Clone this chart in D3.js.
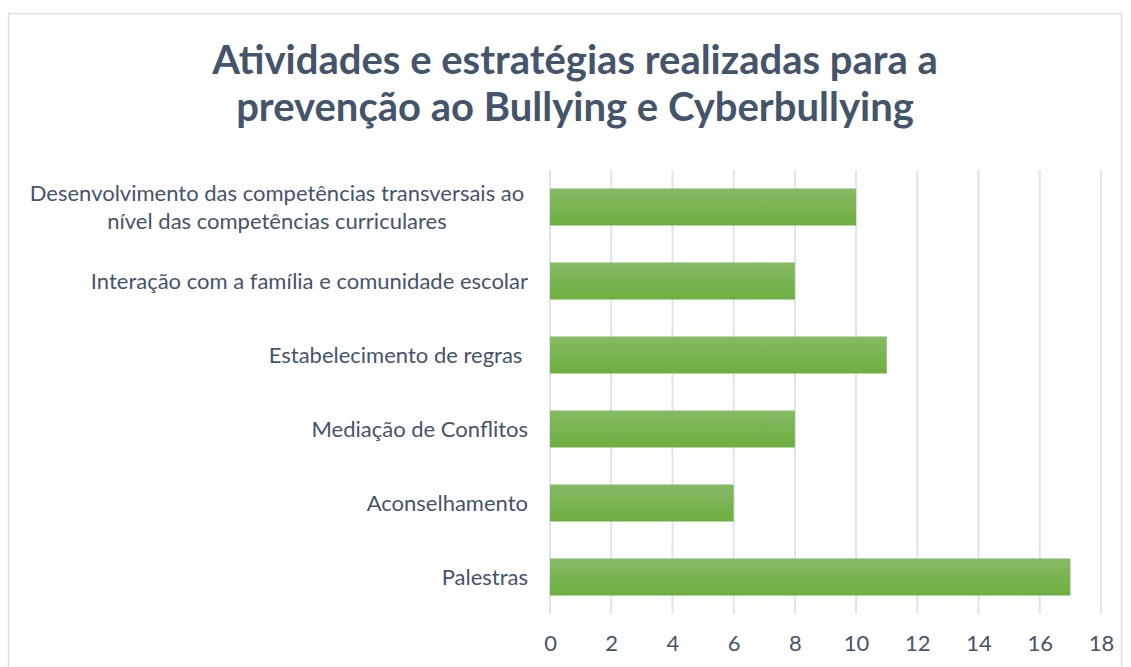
<!DOCTYPE html>
<html>
<head>
<meta charset="utf-8">
<script src="https://cdn.jsdelivr.net/npm/d3@7"></script>
<style>
  body { margin: 0; background: #fff; }
  svg text { font-family: Lato, "Open Sans", sans-serif; }
</style>
</head>
<body>
<svg id="chart" width="1131" height="667"></svg>
<script>
const categories = [
  "Desenvolvimento das competências transversais ao|nível das competências curriculares",
  "Interação com a família e comunidade escolar",
  "Estabelecimento de regras ",
  "Mediação de Conflitos",
  "Aconselhamento",
  "Palestras"
];
const values = [10, 8, 11, 8, 6, 17];
const tickValues = [0, 2, 4, 6, 8, 10, 12, 14, 16, 18];
const titleLines = ["Atividades e estratégias realizadas para a", "prevenção ao Bullying e Cyberbullying"];

const textColor = "#44546a";
const gridColor = "#dfe3ea";

const svg = d3.select("#chart");

// frame
svg.append("rect")
  .attr("x", 8.5).attr("y", 13.5)
  .attr("width", 1113).attr("height", 700)
  .style("fill", "none")
  .style("stroke", "#dcdfe3")
  .style("stroke-width", 1.5);

const defs = svg.append("defs");
const grad = defs.append("linearGradient")
  .attr("id", "barGrad")
  .attr("x1", 0).attr("y1", 0).attr("x2", 0).attr("y2", 1);
grad.append("stop").attr("offset", "0%").attr("stop-color", "#86ba65");
grad.append("stop").attr("offset", "100%").attr("stop-color", "#6daf3f");

// title
svg.append("g").selectAll("text")
  .data(titleLines)
  .join("text")
  .attr("x", 575)
  .attr("y", (d, i) => 74 + i * 47)
  .attr("text-anchor", "middle")
  .text(d => d)
  .style("fill", textColor)
  .style("font-size", "40px")
  .style("font-weight", "bold");

const plotLeft = 550, plotRight = 1101, plotTop = 170, plotBottom = 614;

const x = d3.scaleLinear().domain([0, 18]).range([plotLeft, plotRight]);
const y = d3.scaleBand().domain(categories).range([plotTop, plotBottom]).paddingInner(0.5).paddingOuter(0.25);

// gridlines
svg.append("g").selectAll("line")
  .data(tickValues)
  .join("line")
  .attr("x1", d => x(d)).attr("x2", d => x(d))
  .attr("y1", plotTop).attr("y2", plotBottom)
  .style("stroke", gridColor)
  .style("stroke-width", 2);

// x axis labels
const xAxis = svg.append("g")
  .attr("transform", `translate(0,${plotBottom})`)
  .call(d3.axisBottom(x).tickValues(tickValues).tickSize(0).tickPadding(21));
xAxis.select(".domain").remove();
xAxis.selectAll("text")
  .style("fill", textColor)
  .style("font-size", "22px")
  .style("font-family", "Lato, sans-serif");

// bars
svg.append("g").selectAll("rect")
  .data(values)
  .join("rect")
  .attr("x", x(0))
  .attr("y", (d, i) => y(categories[i]))
  .attr("width", d => x(d) - x(0))
  .attr("height", y.bandwidth())
  .style("fill", "url(#barGrad)");

// category labels
const labels = svg.append("g");
categories.forEach(c => {
  const lines = c.split("|");
  const cy = y(c) + y.bandwidth() / 2;
  const t = labels.append("text")
    .style("fill", textColor)
    .style("font-size", "22px");
  if (lines.length === 1) {
    t.attr("x", 528).attr("y", cy).attr("dy", "0.35em")
      .attr("text-anchor", "end")
      .style("white-space", "pre")
      .text(c);
  } else {
    t.attr("text-anchor", "middle");
    lines.forEach((ln, i) => {
      t.append("tspan")
        .attr("x", 277)
        .attr("y", cy + (i - (lines.length - 1) / 2) * 28)
        .attr("dy", "0.35em")
        .text(ln);
    });
  }
});
</script>
</body>
</html>
